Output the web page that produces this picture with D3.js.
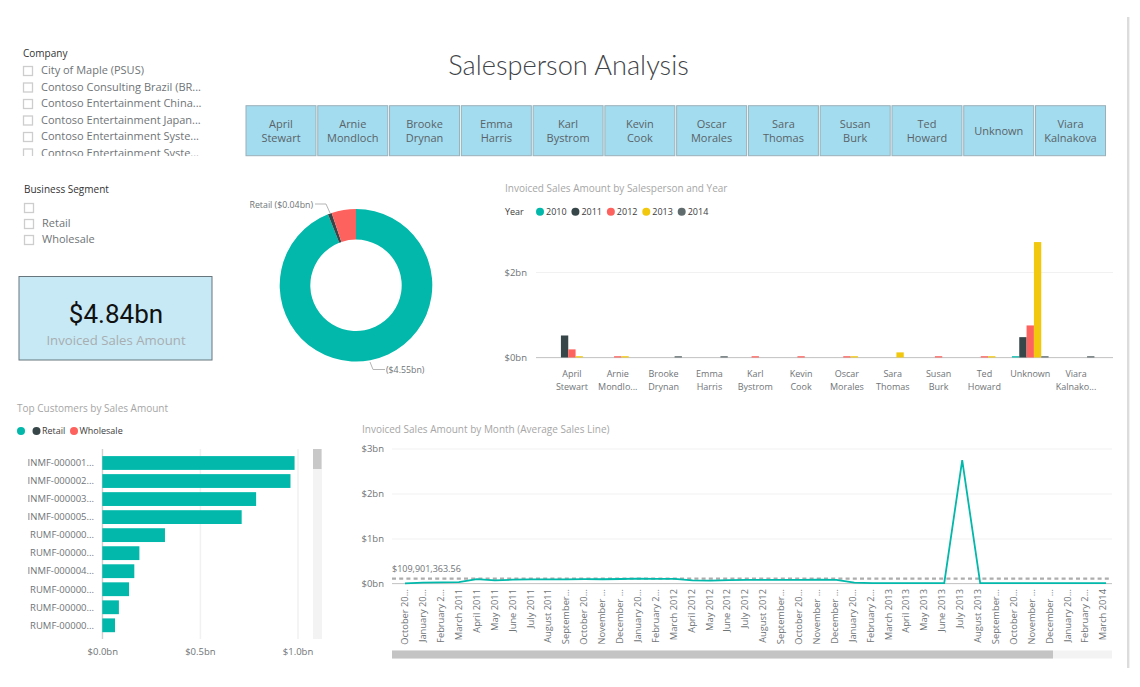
<!DOCTYPE html>
<html>
<head>
<meta charset="utf-8">
<script src="https://cdnjs.cloudflare.com/ajax/libs/d3/7.8.5/d3.min.js"></script>
<style>
html, body { margin: 0; padding: 0; background: #fff; overflow: hidden; }
svg { display: block; }
text { font-family: "Open Sans", "Noto Sans", sans-serif; }
</style>
</head>
<body>
<div id="chart"></div>
<script>
const companies = ["City of Maple (PSUS)", "Contoso Consulting Brazil (BR...", "Contoso Entertainment China...", "Contoso Entertainment Japan...", "Contoso Entertainment Syste...", "Contoso Entertainment Syste..."]
const segments = ["", "Retail", "Wholesale"]

const people = ["April Stewart", "Arnie Mondloch", "Brooke Drynan", "Emma Harris", "Karl Bystrom", "Kevin Cook", "Oscar Morales", "Sara Thomas", "Susan Burk", "Ted Howard", "Unknown", "Viara Kalnakova"]
const peopleLabels = [["April", "Stewart"], ["Arnie", "Mondlo..."], ["Brooke", "Drynan"], ["Emma", "Harris"], ["Karl", "Bystrom"], ["Kevin", "Cook"], ["Oscar", "Morales"], ["Sara", "Thomas"], ["Susan", "Burk"], ["Ted", "Howard"], ["Unknown"], ["Viara", "Kalnako..."]]

const years = ["2010", "2011", "2012", "2013", "2014"]
const yearColors = ["#01b8aa", "#374649", "#fd625e", "#f2c80f", "#5f6b6d"]
// sales by salesperson, one list per year ($bn)
const sales2010 = [0, 0, 0, 0, 0, 0, 0, 0, 0, 0, 0.03, 0]
const sales2011 = [0.515, 0, 0, 0, 0, 0, 0, 0, 0, 0, 0.476, 0]
const sales2012 = [0.19, 0.03, 0, 0, 0.03, 0.03, 0.03, 0, 0.03, 0.03, 0.75, 0]
const sales2013 = [0.03, 0.03, 0, 0, 0, 0, 0.03, 0.12, 0, 0.03, 2.7, 0]
const sales2014 = [0, 0, 0.03, 0.03, 0, 0, 0, 0, 0, 0, 0.03, 0.03]
const salesByYear = [sales2010, sales2011, sales2012, sales2013, sales2014]

const segmentNames = ["", "Retail", "Wholesale"]
const segmentValues = [4.55, 0.04, 0.25]
const segmentColors = ["#01b8aa", "#374649", "#fd625e"]

const customers = ["INMF-000001...", "INMF-000002...", "INMF-000003...", "INMF-000005...", "RUMF-00000...", "RUMF-00000...", "INMF-000004...", "RUMF-00000...", "RUMF-00000...", "RUMF-00000..."]
const customerSales = [0.985, 0.964, 0.788, 0.714, 0.321, 0.19, 0.164, 0.137, 0.085, 0.065]

const months = ["October 20...", "January 20...", "February 2...", "March 2011", "April 2011", "May 2011", "June 2011", "July 2011", "August 2011", "September...", "October 20...", "November ...", "December ...", "January 20...", "February 2...", "March 2012", "April 2012", "May 2012", "June 2012", "July 2012", "August 2012", "September...", "October 20...", "November ...", "December ...", "January 20...", "February 2...", "March 2013", "April 2013", "May 2013", "June 2013", "July 2013", "August 2013", "September...", "October 20...", "November ...", "December ...", "January 20...", "February 2...", "March 2014"]
const monthSales = [0.005, 0.02, 0.025, 0.03, 0.095, 0.07, 0.085, 0.09, 0.09, 0.09, 0.095, 0.095, 0.1, 0.11, 0.105, 0.105, 0.07, 0.065, 0.075, 0.08, 0.08, 0.08, 0.08, 0.085, 0.08, 0.02, 0.01, 0.01, 0.01, 0.01, 0.01, 2.74, 0.01, 0.01, 0.01, 0.01, 0.01, 0.01, 0.01, 0.01]
const averageSales = 0.1099

const textDark = "#3c3c3c"
const textGrey = "#6f7477"
const titleGrey = "#a6a6a6"
const gridColor = "#f1f1f1"
const baseColor = "#c8c8c8"

const svg = d3.select("#chart").append("svg")
	.attr("width", 1140)
	.attr("height", 687)

// page divider on the right
svg.append("rect").attr("x", 1127).attr("y", 17).attr("width", 2.4).attr("height", 651).attr("fill", "#dcdcdc")

// title
svg.append("text").attr("x", 568.5).attr("y", 75).attr("text-anchor", "middle")
	.style("font-family", "Lato").attr("font-size", 27.2).attr("font-weight", 300).attr("fill", "#3f4448").text("Salesperson Analysis")

// slicers
const slicer = (title, items, x, titleY, rowY, clipId) => {
	svg.append("text").attr("x", x).attr("y", titleY).attr("font-size", 10).attr("fill", "#333").text(title)
	let g = svg.append("g")
	if(clipId) g.attr("clip-path", "url(#" + clipId + ")")
	items.forEach((item, i) => {
		g.append("rect").attr("x", x + 0.5).attr("y", rowY(i) - 4.5).attr("width", 9).attr("height", 9)
			.attr("fill", "#fff").attr("stroke", "#cdcdcd").attr("stroke-width", 1.3)
		g.append("text").attr("x", x + 18).attr("y", rowY(i) + 3).attr("font-size", 11).attr("fill", textGrey).text(item)
	})
}
svg.append("clipPath").attr("id", "companyClip").append("rect").attr("x", 0).attr("y", 60).attr("width", 240).attr("height", 96)
slicer("Company", companies, 23, 57, i => 71 + i * 16.5, "companyClip")
slicer("Business Segment", segments, 24, 193, i => 208 + i * 16)

// KPI card
svg.append("rect").attr("x", 19).attr("y", 276.5).attr("width", 193).attr("height", 83.5)
	.attr("fill", "#c6e9f5").attr("stroke", "#66767c").attr("stroke-width", 1)
svg.append("text").attr("x", 116).attr("y", 323).attr("text-anchor", "middle").attr("font-size", 26)
	.style("font-family", "Roboto").attr("fill", "#111").text("$4.84bn")
svg.append("text").attr("x", 116).attr("y", 345).attr("text-anchor", "middle").attr("font-size", 13.2)
	.attr("fill", "#a9adb0").text("Invoiced Sales Amount")

// salesperson buttons
let buttonX = d3.scaleBand().domain(people).range([246, 1105.5]).paddingInner(0.025).paddingOuter(0)
let buttons = svg.selectAll(".button").data(people).enter().append("g").attr("class", "button")
buttons.append("rect")
	.attr("x", d => buttonX(d)).attr("y", 105.7)
	.attr("width", buttonX.bandwidth()).attr("height", 50)
	.attr("fill", "#a3dcef").attr("stroke", "#9ab0b8").attr("stroke-width", 1)
buttons.each(function(d) {
	let lines = d === "Unknown" ? [d] : d.split(" ")
	let startY = lines.length === 1 ? 135 : 127.5
	d3.select(this).selectAll("text").data(lines).enter().append("text")
		.attr("x", buttonX(d) + buttonX.bandwidth() / 2)
		.attr("y", (l, i) => startY + i * 14.5)
		.attr("text-anchor", "middle").attr("font-size", 11).attr("fill", "#5a6367").text(l => l)
})

// donut
let donutG = svg.append("g").attr("transform", "translate(356,285.3)")
let pie = d3.pie().sort(null)
let arc = d3.arc().innerRadius(45.7).outerRadius(76.3)
donutG.selectAll("path").data(pie(segmentValues)).enter().append("path")
	.attr("d", arc).attr("fill", (d, i) => segmentColors[i])
let leader = d3.line()
svg.append("path").attr("d", leader([[315, 204], [326, 204], [330, 213]])).attr("fill", "none").attr("stroke", "#b5b5b5")
svg.append("path").attr("d", leader([[370, 362], [373, 369.5], [385, 369.5]])).attr("fill", "none").attr("stroke", "#b5b5b5")
svg.append("text").attr("x", 313).attr("y", 208).attr("text-anchor", "end").attr("font-size", 8.8).attr("fill", textGrey).text(segmentNames[1] + " ($" + segmentValues[1].toFixed(2) + "bn)")
svg.append("text").attr("x", 386).attr("y", 372.5).attr("font-size", 8.8).attr("fill", textGrey).text("($" + segmentValues[0].toFixed(2) + "bn)")

// column chart
svg.append("text").attr("x", 505).attr("y", 192).attr("font-size", 10).attr("fill", titleGrey).text("Invoiced Sales Amount by Salesperson and Year")
svg.append("text").attr("x", 505).attr("y", 215).attr("font-size", 9).attr("fill", textDark).text("Year")
let legendX = d3.scalePoint().domain(years).range([540, 681.7])
years.forEach((y, i) => {
	svg.append("circle").attr("cx", legendX(y)).attr("cy", 211.7).attr("r", 4).attr("fill", yearColors[i])
	svg.append("text").attr("x", legendX(y) + 6).attr("y", 215).attr("font-size", 9).attr("fill", textDark).text(y)
})

let colX = d3.scaleBand().domain(people).range([549, 1099]).paddingInner(0.2).paddingOuter(0.1)
let colInner = d3.scaleBand().domain(years).range([0, colX.bandwidth()])
let colY = d3.scaleLinear().domain([0, 2]).range([357.5, 272])

let colAxis = svg.append("g").attr("transform", "translate(536,0)")
	.call(d3.axisLeft(colY).tickValues([0, 2]).tickSize(-577).tickFormat(d => "$" + d + "bn"))
colAxis.select(".domain").remove()
colAxis.selectAll("line").attr("stroke", gridColor)
colAxis.selectAll("text").attr("x", -9).attr("font-size", 9.5).attr("fill", textGrey).style("font-family", null)
svg.append("line").attr("x1", 536).attr("x2", 1113).attr("y1", 357.5).attr("y2", 357.5).attr("stroke", baseColor)

salesByYear.forEach((values, i) => {
	svg.append("g").selectAll("rect").data(values).enter().append("rect")
		.attr("x", (d, j) => colX(people[j]) + colInner(years[i]))
		.attr("y", d => colY(d))
		.attr("width", colInner.bandwidth())
		.attr("height", d => colY(0) - colY(d))
		.attr("fill", yearColors[i])
})
peopleLabels.forEach((lines, j) => {
	lines.forEach((l, k) => {
		svg.append("text").attr("x", colX(people[j]) + colX.bandwidth() / 2).attr("y", 377 + k * 12.8)
			.attr("text-anchor", "middle").attr("font-size", 9).attr("fill", textGrey).text(l)
	})
})

// top customers bar chart
svg.append("text").attr("x", 17).attr("y", 412).attr("font-size", 10).attr("fill", titleGrey).text("Top Customers by Sales Amount")
let customerLegend = [[21, 0], [36.5, 1], [74, 2]]
customerLegend.forEach(([x, i]) => {
	svg.append("circle").attr("cx", x).attr("cy", 431).attr("r", 4).attr("fill", segmentColors[i])
})
svg.append("text").attr("x", 42).attr("y", 434).attr("font-size", 9).attr("fill", textDark).text("Retail")
svg.append("text").attr("x", 79.5).attr("y", 434).attr("font-size", 9).attr("fill", textDark).text("Wholesale")

let barX = d3.scaleLinear().domain([0, 1]).range([102.3, 297.5])
let barY = d3.scaleBand().domain(d3.range(customers.length)).range([454.3, 634]).paddingInner(0.235).paddingOuter(0.1)

let barAxis = svg.append("g").attr("transform", "translate(0,639)")
	.call(d3.axisBottom(barX).tickValues([0, 0.5, 1]).tickSize(-190).tickFormat(d => "$" + d.toFixed(1) + "bn"))
barAxis.select(".domain").remove()
barAxis.selectAll("line").attr("stroke", gridColor).attr("stroke-width", 1.5)
barAxis.selectAll("text").attr("y", 9).attr("font-size", 9.5).attr("fill", textGrey).style("font-family", null)
svg.append("line").attr("x1", 102.3).attr("x2", 102.3).attr("y1", 449).attr("y2", 639).attr("stroke", baseColor)

svg.append("g").selectAll("rect").data(customerSales).enter().append("rect")
	.attr("x", barX(0)).attr("y", (d, i) => barY(i))
	.attr("width", d => barX(d) - barX(0)).attr("height", barY.bandwidth())
	.attr("fill", "#01b8aa")
svg.append("g").selectAll("text").data(customers).enter().append("text")
	.attr("x", 94).attr("y", (d, i) => barY(i) + barY.bandwidth() / 2 + 3.3)
	.attr("text-anchor", "end").attr("font-size", 9.5).attr("fill", textGrey).text(d => d)

// bar chart scrollbar
svg.append("rect").attr("x", 313).attr("y", 449).attr("width", 9).attr("height", 190).attr("fill", "#f3f3f3")
svg.append("rect").attr("x", 313).attr("y", 449).attr("width", 8.5).attr("height", 20).attr("fill", "#c8c8c8")

// monthly line chart
svg.append("text").attr("x", 362).attr("y", 433).attr("font-size", 10).attr("fill", titleGrey).text("Invoiced Sales Amount by Month (Average Sales Line)")

// the labels sit a little tighter than the line points in the reference
let lineX = d3.scalePoint().domain(d3.range(months.length)).range([396, 1115]).padding(0.5)
let labelX = d3.scalePoint().domain(d3.range(months.length)).range([396, 1112]).padding(0.5)
let lineY = d3.scaleLinear().domain([0, 3]).range([583.5, 448.5])

let lineAxis = svg.append("g").attr("transform", "translate(392,0)")
	.call(d3.axisLeft(lineY).tickValues([0, 1, 2, 3]).tickSize(-720).tickFormat(d => "$" + d + "bn"))
lineAxis.select(".domain").remove()
lineAxis.selectAll("line").attr("stroke", gridColor)
lineAxis.selectAll("text").attr("x", -8).attr("font-size", 9.5).attr("fill", textGrey).style("font-family", null)
svg.append("line").attr("x1", 392).attr("x2", 1112).attr("y1", 583.5).attr("y2", 583.5).attr("stroke", baseColor)

svg.append("line").attr("x1", 392).attr("x2", 1112).attr("y1", lineY(averageSales)).attr("y2", lineY(averageSales))
	.attr("stroke", "#adadad").attr("stroke-width", 2.2).attr("stroke-dasharray", "4 3.2")
svg.append("text").attr("x", 392).attr("y", 571.5).attr("font-size", 9).attr("fill", textGrey)
	.text("$" + d3.format(",.2f")(109901363.56))

let salesLine = d3.line().x((d, i) => lineX(i)).y(d => lineY(d))
svg.append("path").datum(monthSales).attr("d", salesLine)
	.attr("fill", "none").attr("stroke", "#01b8aa").attr("stroke-width", 1.8)

svg.append("g").selectAll("text").data(months).enter().append("text")
	.attr("transform", (d, i) => "translate(" + (labelX(i) + 3.3) + ",589) rotate(-90)")
	.attr("text-anchor", "end").attr("font-size", 9.3).attr("fill", textGrey).text(d => d)

// line chart scrollbar
svg.append("rect").attr("x", 392).attr("y", 650.5).attr("width", 720).attr("height", 8).attr("fill", "#f3f3f3")
svg.append("rect").attr("x", 392).attr("y", 650.5).attr("width", 661).attr("height", 8).attr("fill", "#c4c4c4")
</script>
</body>
</html>
